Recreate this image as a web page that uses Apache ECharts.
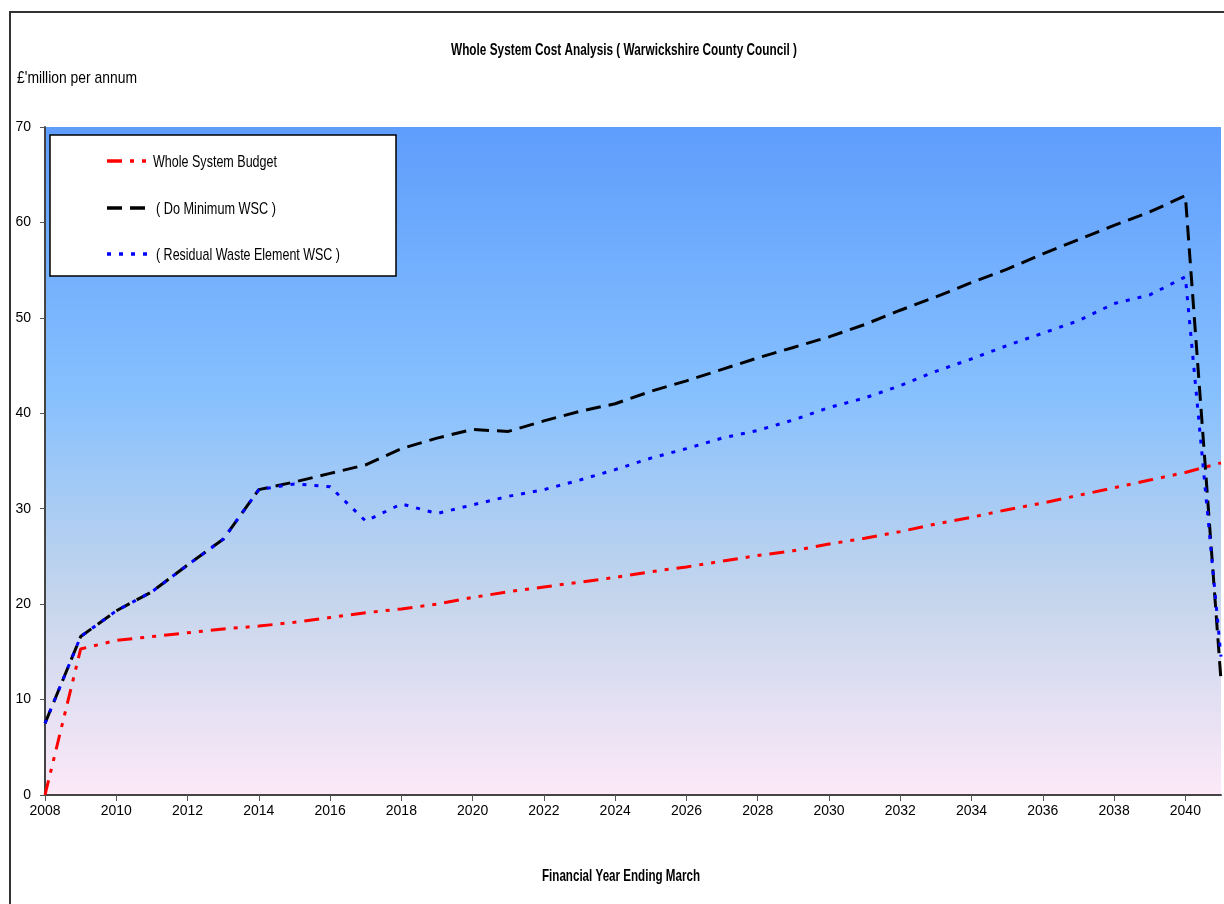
<!DOCTYPE html>
<html>
<head>
<meta charset="utf-8">
<title>Whole System Cost Analysis</title>
<script src="https://cdn.jsdelivr.net/npm/echarts@6/dist/echarts.min.js"></script>
<style>
  html, body { margin: 0; padding: 0; background: #fff; }
  #chart { width: 1224px; height: 904px; }
</style>
</head>
<body>
<div id="chart"></div>
<script>
// Financial years (ending March)
const years = [2008, 2009, 2010, 2011, 2012, 2013, 2014, 2015, 2016, 2017, 2018,
  2019, 2020, 2021, 2022, 2023, 2024, 2025, 2026, 2027, 2028, 2029, 2030,
  2031, 2032, 2033, 2034, 2035, 2036, 2037, 2038, 2039, 2040, 2041];

// £ million per annum
const wholeSystemBudget = [0, 15.3, 16.2, 16.6, 17.0, 17.4, 17.7, 18.1, 18.6, 19.1, 19.5,
  20.0, 20.7, 21.3, 21.8, 22.3, 22.8, 23.4, 23.9, 24.5, 25.1, 25.6, 26.3,
  26.9, 27.6, 28.4, 29.1, 29.9, 30.6, 31.4, 32.2, 33.0, 33.8, 34.8];

const doMinimumWSC = [7.5, 16.6, 19.3, 21.3, 24.1, 26.8, 32.0, 32.8, 33.7, 34.6, 36.3,
  37.4, 38.3, 38.1, 39.2, 40.2, 41.0, 42.3, 43.4, 44.6, 45.8, 46.9, 48.0,
  49.3, 50.8, 52.2, 53.7, 55.1, 56.7, 58.2, 59.7, 61.1, 62.8, 12.0];

const residualWasteWSC = [7.5, 16.6, 19.3, 21.3, 24.1, 26.8, 32.0, 32.6, 32.3, 28.7, 30.5,
  29.5, 30.4, 31.3, 32.0, 33.0, 34.1, 35.3, 36.3, 37.4, 38.2, 39.3, 40.6,
  41.6, 42.9, 44.4, 45.7, 47.1, 48.4, 49.7, 51.5, 52.4, 54.3, 14.5];

const yearTicks = [2008, 2010, 2012, 2014, 2016, 2018, 2020, 2022, 2024,
  2026, 2028, 2030, 2032, 2034, 2036, 2038, 2040];

const seriesNames = ['Whole System Budget', '( Do Minimum WSC )', '( Residual Waste Element WSC )'];
const seriesColors = ['#ff0000', '#000000', '#0000ff'];
const seriesDashes = [[15, 8, 4, 8, 4, 8], [15, 8], [4, 8]];

const FONT = "'Liberation Sans', Arial, sans-serif";

const pairs = vals => years.map((y, i) => [y, vals[i]]);

// Narrow, tall lettering: measure the text and squeeze it horizontally to the wanted width.
const measureCtx = document.createElement('canvas').getContext('2d');
function squeezedText(text, font, width, x, y, align, extra) {
  measureCtx.font = font;
  const sx = width / measureCtx.measureText(text).width;
  return Object.assign({
    type: 'text', z: 20, silent: true, x: x, y: y, scaleX: sx,
    style: { text: text, font: font, fill: '#000', align: align, verticalAlign: 'middle' }
  }, extra || {});
}

// Legend box drawn as graphics so the lettering can share the narrow style
const legendRows = [161, 208, 254];
const legendTextWidths = [124, 120, 184];
const legendGraphics = [
  { type: 'rect', z: 15, silent: true,
    shape: { x: 50, y: 135, width: 346, height: 141 },
    style: { fill: '#fff', stroke: '#000', lineWidth: 1.5 } }
];
seriesNames.forEach((name, i) => {
  legendGraphics.push({
    type: 'line', z: 20, silent: true,
    shape: { x1: 107, y1: legendRows[i], x2: 149, y2: legendRows[i] },
    style: { stroke: seriesColors[i], lineWidth: 3.5, lineDash: seriesDashes[i] }
  });
  legendGraphics.push(squeezedText(name, '17px ' + FONT, legendTextWidths[i],
    i === 0 ? 153 : 156, legendRows[i] + 1, 'left'));
});

const chart = echarts.init(document.getElementById('chart'), null, { renderer: 'canvas' });

const option = {
  animation: false,
  backgroundColor: '#ffffff',
  textStyle: { fontFamily: FONT },
  grid: {
    left: 45, right: 3, top: 127, bottom: 109,
    show: true,
    borderWidth: 0,
    backgroundColor: {
      type: 'linear', x: 0, y: 0, x2: 0, y2: 1,
      colorStops: [
        { offset: 0, color: '#5e9dfc' },
        { offset: 0.4, color: '#86c0fe' },
        { offset: 0.7, color: '#c4d5ec' },
        { offset: 1, color: '#fde9f8' }
      ]
    }
  },
  xAxis: {
    type: 'value',
    min: 2008, max: 2041, interval: 2,
    splitLine: { show: false },
    axisLine: { show: true, lineStyle: { color: '#444', width: 2 } },
    axisTick: { show: true, length: 6, inside: false, lineStyle: { color: '#555', width: 1 },
      customValues: yearTicks },
    axisLabel: { customValues: yearTicks, margin: 9, fontFamily: FONT, fontSize: 14, color: '#000',
      formatter: v => String(v) }
  },
  yAxis: {
    type: 'value',
    min: 0, max: 70, interval: 10,
    splitLine: { show: false },
    axisLine: { show: true, lineStyle: { color: '#444', width: 2 } },
    axisTick: { show: true, length: 5, lineStyle: { color: '#555', width: 1 } },
    axisLabel: { margin: 14, fontFamily: FONT, fontSize: 14, color: '#000' }
  },
  graphic: [
    { type: 'rect', z: 0, silent: true,
      shape: { x: 10, y: 12, width: 1400, height: 1000 },
      style: { fill: null, stroke: '#333', lineWidth: 2 } },
    squeezedText('Whole System Cost Analysis ( Warwickshire County Council )',
      'bold 17px ' + FONT, 346, 624, 50, 'center'),
    squeezedText("£'million per annum", '17px ' + FONT, 120, 17, 78, 'left'),
    squeezedText('Financial Year Ending March', 'bold 17px ' + FONT, 158, 621, 876, 'center')
  ].concat(legendGraphics),
  series: seriesNames.map((name, i) => ({
    name: name,
    type: 'line',
    data: pairs([wholeSystemBudget, doMinimumWSC, residualWasteWSC][i]),
    symbol: 'none',
    z: 3 + i,
    lineStyle: { color: seriesColors[i], width: 3, type: seriesDashes[i] },
    itemStyle: { color: seriesColors[i] }
  }))
};

chart.setOption(option);
</script>
</body>
</html>
